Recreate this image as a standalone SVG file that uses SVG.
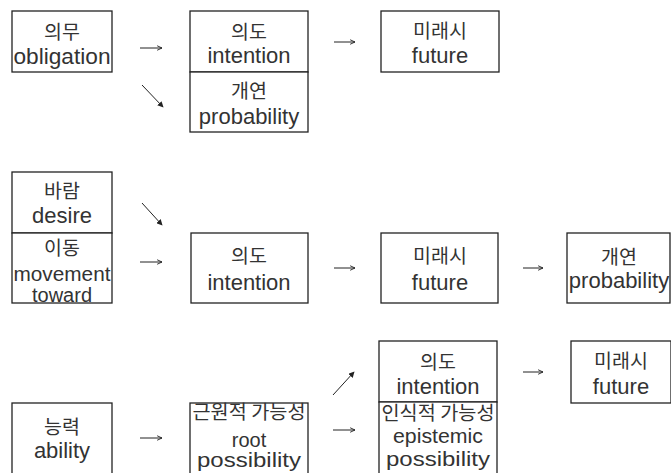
<svg xmlns="http://www.w3.org/2000/svg" width="671" height="473" viewBox="0 0 671 473">
<defs>
<style>
.box{fill:#fff;stroke:#222;stroke-width:1.3}
.ko{font-family:"Noto Sans CJK KR","Liberation Sans",sans-serif;font-size:19.5px;fill:#333;text-anchor:middle}
.en{font-family:"Liberation Sans",Arial,sans-serif;font-size:22px;fill:#333;text-anchor:middle}
.sm{font-size:20px}
.arr{fill:none;stroke:#222;stroke-width:1}
</style>
<marker id="tri" viewBox="0 0 8 8" refX="7" refY="4" markerWidth="6" markerHeight="6" orient="auto" markerUnits="userSpaceOnUse">
<path d="M0,0 L8,4 L0,8 Z" fill="#222"/>
</marker>
<marker id="open" viewBox="0 0 8 8" refX="7.5" refY="4" markerWidth="6" markerHeight="6" orient="auto" markerUnits="userSpaceOnUse">
<path d="M1,1 L7.5,4 L1,7" fill="none" stroke="#222" stroke-width="1.2"/>
</marker>
</defs>
<rect width="671" height="473" fill="#fff"/>

<g id="obligation">
<rect class="box" x="12" y="11" width="100" height="61"/>
<text class="ko" x="62" y="39">의무</text>
<text class="en" x="62" y="64" textLength="97" lengthAdjust="spacingAndGlyphs">obligation</text>
</g>
<g id="intention1">
<rect class="box" x="190" y="11" width="118" height="61"/>
<text class="ko" x="249" y="39">의도</text>
<text class="en" x="249" y="63">intention</text>
</g>
<g id="probability1">
<rect class="box" x="190" y="72" width="118" height="60"/>
<text class="ko" x="249" y="98">개연</text>
<text class="en" x="249" y="124">probability</text>
</g>
<g id="future1">
<rect class="box" x="381" y="11" width="118" height="61"/>
<text class="ko" x="440" y="38">미래시</text>
<text class="en" x="440" y="63">future</text>
</g>

<g id="desire">
<rect class="box" x="12" y="172" width="100" height="61"/>
<text class="ko" x="62" y="198">바람</text>
<text class="en" x="62" y="223">desire</text>
</g>
<g id="movement">
<rect class="box" x="12" y="233" width="100" height="70"/>
<text class="ko" x="62" y="255">이동</text>
<text class="en sm" x="62" y="281" textLength="97" lengthAdjust="spacingAndGlyphs">movement</text>
<text class="en sm" x="62" y="302">toward</text>
</g>
<g id="intention2">
<rect class="box" x="191" y="233" width="117" height="70"/>
<text class="ko" x="249" y="263">의도</text>
<text class="en" x="249" y="290">intention</text>
</g>
<g id="future2">
<rect class="box" x="381" y="233" width="117" height="70"/>
<text class="ko" x="440" y="263">미래시</text>
<text class="en" x="440" y="290">future</text>
</g>
<g id="probability2">
<rect class="box" x="567" y="233" width="103" height="70"/>
<text class="ko" x="619" y="264">개연</text>
<text class="en" x="619" y="288">probability</text>
</g>

<g id="ability">
<rect class="box" x="12" y="403" width="100" height="80"/>
<text class="ko" x="62" y="434">능력</text>
<text class="en" x="62" y="458">ability</text>
</g>
<g id="root">
<rect class="box" x="190" y="403" width="118" height="80"/>
<text class="ko" x="249" y="419" textLength="113" lengthAdjust="spacingAndGlyphs">근원적 가능성</text>
<text class="en sm" x="249" y="447">root</text>
<text class="en sm" x="249" y="467" textLength="104" lengthAdjust="spacingAndGlyphs">possibility</text>
</g>
<g id="intention3">
<rect class="box" x="379" y="341" width="118" height="61"/>
<text class="ko" x="438" y="369">의도</text>
<text class="en" x="438" y="394">intention</text>
</g>
<g id="epistemic">
<rect class="box" x="379" y="402" width="118" height="80"/>
<text class="ko" x="438" y="420" textLength="113" lengthAdjust="spacingAndGlyphs">인식적 가능성</text>
<text class="en sm" x="438" y="443" textLength="90" lengthAdjust="spacingAndGlyphs">epistemic</text>
<text class="en sm" x="438" y="466" textLength="104" lengthAdjust="spacingAndGlyphs">possibility</text>
</g>
<g id="future3">
<rect class="box" x="571" y="341" width="100" height="62"/>
<text class="ko" x="621" y="368">미래시</text>
<text class="en" x="621" y="394">future</text>
</g>

<g id="connectors">
<line class="arr" x1="140" y1="48" x2="162" y2="48" marker-end="url(#open)"/>
<line class="arr" x1="334" y1="42" x2="355" y2="42" marker-end="url(#open)"/>
<line class="arr" x1="142" y1="85" x2="163" y2="107" marker-end="url(#tri)"/>
<line class="arr" x1="142" y1="203" x2="162" y2="225" marker-end="url(#tri)"/>
<line class="arr" x1="140" y1="262" x2="162" y2="262" marker-end="url(#open)"/>
<line class="arr" x1="334" y1="268" x2="355" y2="268" marker-end="url(#open)"/>
<line class="arr" x1="523" y1="268" x2="543" y2="268" marker-end="url(#open)"/>
<line class="arr" x1="140" y1="438" x2="162" y2="438" marker-end="url(#open)"/>
<line class="arr" x1="333" y1="395" x2="354" y2="372" marker-end="url(#tri)"/>
<line class="arr" x1="333" y1="430" x2="355" y2="430" marker-end="url(#open)"/>
<line class="arr" x1="523" y1="372" x2="543" y2="372" marker-end="url(#open)"/>
</g>
</svg>
